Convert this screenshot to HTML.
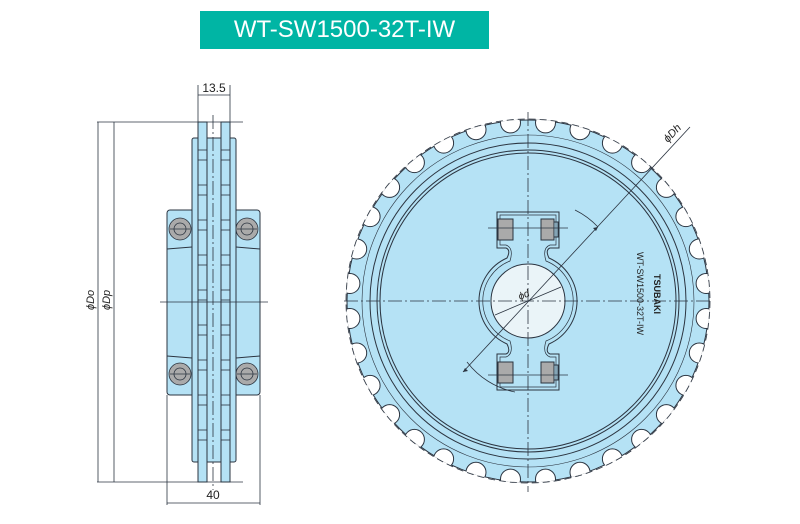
<!DOCTYPE html>
<html><head><meta charset="utf-8"><style>
html,body{margin:0;padding:0;background:#fff;}
#w{position:relative;width:800px;height:524px;overflow:hidden;}
.hdr{position:absolute;left:200px;top:11px;width:289px;height:38px;background:#00b5a4;color:#fff;font:24px "Liberation Sans",sans-serif;text-align:center;line-height:38px;}
svg{position:absolute;left:0;top:0;}
text{font-family:"Liberation Sans",sans-serif;}
</style></head><body><div id="w">
<div class="hdr">WT-SW1500-32T-IW</div>
<svg width="800" height="524" id="s" xmlns="http://www.w3.org/2000/svg">
<defs><clipPath id="cp"><circle cx="528" cy="301" r="181.5"/></clipPath></defs>
<g stroke="#2b3440" stroke-width="1" fill="#b5e2f5">
<rect x="167" y="210" width="93" height="185" rx="3"/>
<line x1="167" y1="249" x2="192" y2="247" fill="none"/><line x1="236" y1="247" x2="260" y2="249" fill="none"/>
<line x1="167" y1="356" x2="192" y2="358" fill="none"/><line x1="236" y1="358" x2="260" y2="356" fill="none"/>
<rect x="192" y="138" width="44" height="324" rx="2"/>
<rect x="198" y="122" width="9" height="360"/>
<rect x="221" y="122" width="9" height="360"/>
</g>
<g id="sq" stroke="#2b3440" fill="none" stroke-width="0.8"></g>
<g stroke="#2b3440" stroke-width="0.8">
<circle cx="180" cy="229" r="11" fill="#aaaaaa"/><circle cx="180" cy="229" r="6" fill="none"/>
<circle cx="247" cy="229" r="11" fill="#aaaaaa"/><circle cx="247" cy="229" r="6" fill="none"/>
<circle cx="180" cy="374" r="11" fill="#aaaaaa"/><circle cx="180" cy="374" r="6" fill="none"/>
<circle cx="247" cy="374" r="11" fill="#aaaaaa"/><circle cx="247" cy="374" r="6" fill="none"/>
<line x1="170" y1="229" x2="190" y2="229"/><line x1="237" y1="229" x2="257" y2="229"/>
<line x1="170" y1="374" x2="190" y2="374"/><line x1="237" y1="374" x2="257" y2="374"/>
</g>
<g stroke="#2b3440" stroke-width="0.8" fill="none">
<line x1="213" y1="115" x2="213" y2="490" stroke-dasharray="14,3,2,3"/>
<line x1="160" y1="302" x2="268" y2="302"/>
<line x1="97" y1="122" x2="243" y2="122"/><line x1="97" y1="482" x2="243" y2="482"/>
<line x1="98" y1="122" x2="98" y2="482"/><line x1="114" y1="122" x2="114" y2="482"/>
<line x1="198" y1="85" x2="198" y2="122"/><line x1="230" y1="85" x2="230" y2="122"/>
<line x1="198" y1="95" x2="230" y2="95"/>
<line x1="167" y1="395" x2="167" y2="505"/><line x1="260" y1="395" x2="260" y2="505"/>
<line x1="167" y1="503" x2="260" y2="503"/>
</g>
<text x="214" y="92" font-size="12" text-anchor="middle" fill="#222">13.5</text>
<text x="213" y="499" font-size="12" text-anchor="middle" fill="#222">40</text>
<text transform="translate(94,310) rotate(-90)" font-size="11" font-style="italic" fill="#222">ϕDo</text>
<text transform="translate(110,310) rotate(-90)" font-size="11" font-style="italic" fill="#222">ϕDp</text>
<g id="gear"></g>
<g stroke="#2b3440" fill="none" stroke-width="1">
<circle cx="528" cy="301" r="158"/><circle cx="528" cy="301" r="151"/><circle cx="528" cy="301" r="148"/>
<path fill="#b5e2f5" d="M497,212 H559 V248 H550 Q545,250 549,258 A47,47 0 0 1 549,344 Q545,352 550,354 H559 V390 H497 V354 H506 Q511,352 507,344 A47,47 0 0 1 507,258 Q511,250 506,248 H497 Z"/>
<path stroke-width="0.7" d="M500,215 H556 V245 H550 Q542,248 546,261 A43,43 0 0 1 546,341 Q542,354 550,357 H556 V387 H500 V357 H506 Q514,354 510,341 A43,43 0 0 1 510,261 Q514,248 506,245 H500 Z"/>
<circle cx="528" cy="301" r="37" fill="#eaf4f8"/>
<rect x="498" y="219" width="15" height="21" fill="#aaaaaa"/><rect x="541" y="219" width="13" height="21" fill="#aaaaaa"/>
<rect x="554" y="222" width="4" height="15" fill="none"/>
<rect x="498" y="362" width="15" height="21" fill="#aaaaaa"/><rect x="541" y="362" width="13" height="21" fill="#aaaaaa"/>
<rect x="554" y="365" width="4" height="15" fill="none"/>
</g>
<g stroke="#2b3440" stroke-width="0.8" fill="none">
<line x1="528" y1="112" x2="528" y2="492" stroke-dasharray="14,3,2,3"/>
<line x1="344" y1="301" x2="712" y2="301" stroke-dasharray="14,3,2,3"/>
<line x1="488" y1="228" x2="568" y2="228"/><line x1="488" y1="375" x2="568" y2="375"/>
<line x1="690" y1="127" x2="463" y2="372"/>
<line x1="495" y1="315" x2="561" y2="287"/>
<path d="M575,210 A80,80 0 0 1 598,227"/>
<path d="M467,362 A80,80 0 0 0 515,392"/>
</g>
<path d="M598,227 l-5,1 3,3z M463,372 l5,-1 -3,-3z" fill="#2b3440"/>
<text transform="translate(668,143) rotate(-47)" font-size="11" font-style="italic" fill="#222">ϕDh</text>
<text transform="translate(520,300) rotate(-23)" font-size="10" font-style="italic" fill="#222">ϕd</text>
<text transform="translate(637,252) rotate(90)" font-size="9" fill="#222">WT-SW1500-32T-IW</text>
<text transform="translate(654,274) rotate(90)" font-size="9" font-weight="bold" fill="#222">TSUBAKI</text>
</svg>
<script>
var g=document.getElementById('gear'),cx=528,cy=301,h='';
h+='<circle cx="'+cx+'" cy="'+cy+'" r="181" fill="#b5e2f5" stroke="#2b3440" stroke-width="1"/><g clip-path="url(#cp)">';
for(var i=0;i<32;i++){var a=(i+0.5)*Math.PI*2/32,x=cx+179*Math.cos(a),y=cy+179*Math.sin(a);
h+='<circle cx="'+x.toFixed(1)+'" cy="'+y.toFixed(1)+'" r="10" fill="#fff" stroke="#2b3440" stroke-width="1"/>';}
h+='</g>';
h+='<circle cx="'+cx+'" cy="'+cy+'" r="182" fill="none" stroke="#2b3440" stroke-width="0.8" stroke-dasharray="7,4"/>';
h+='<circle cx="'+cx+'" cy="'+cy+'" r="166" fill="none" stroke="#2b3440" stroke-width="0.6"/>';
g.innerHTML=h;
var sq=document.getElementById('sq'),s='';
for(var y=150;y<460;y+=35){s+='<rect x="198" y="'+y+'" width="9" height="10"/><rect x="221" y="'+y+'" width="9" height="10"/>';}
sq.innerHTML=s;
</script>
</div></body></html>
